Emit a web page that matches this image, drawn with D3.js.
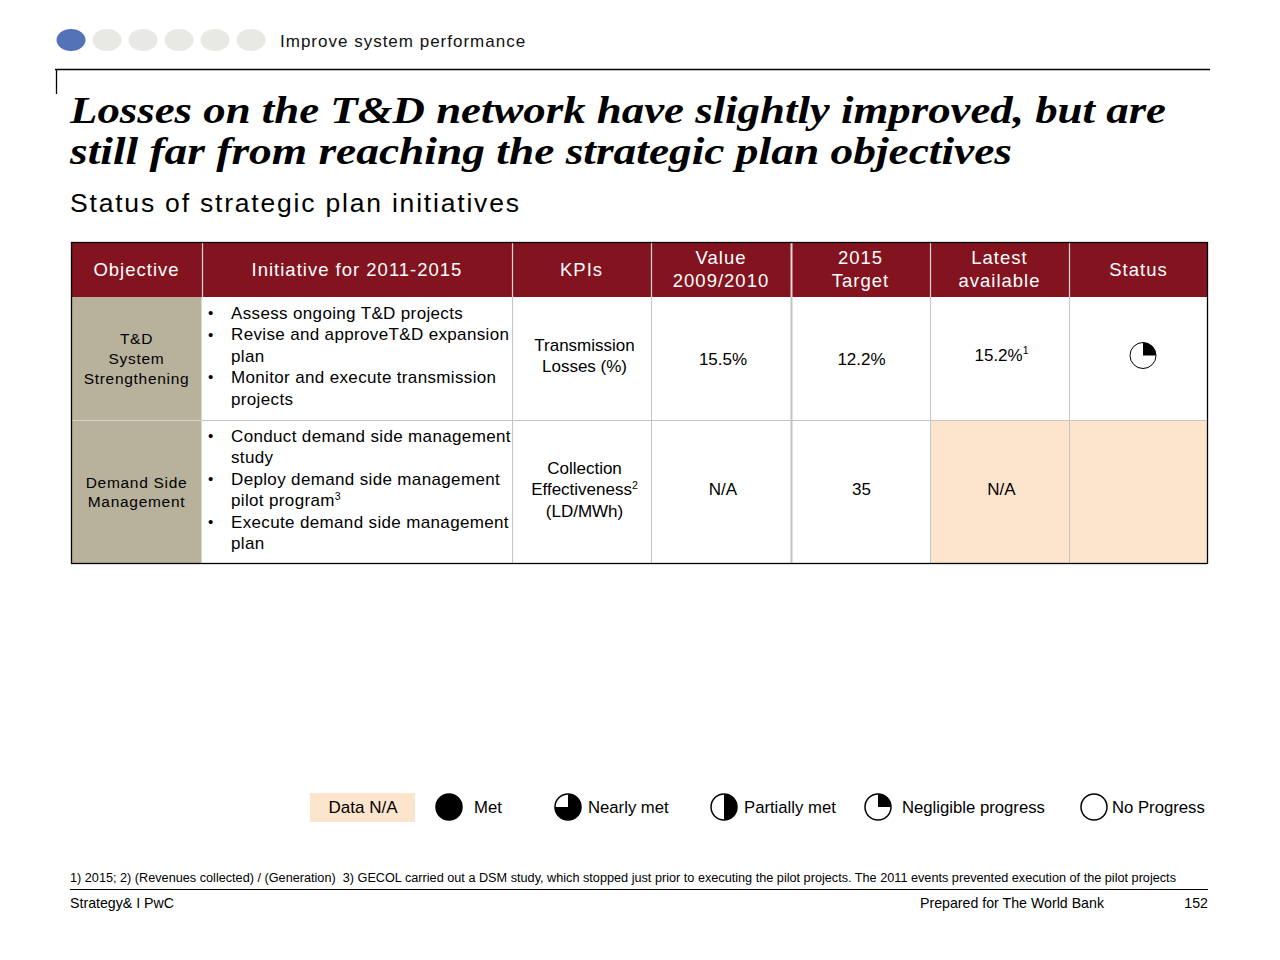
<!DOCTYPE html>
<html><head><meta charset="utf-8">
<script src="https://cdn.jsdelivr.net/npm/d3@7"></script>
<style>body{margin:0;background:#fff}svg{display:block}text{white-space:pre}</style>
</head><body>
<svg id="c" width="1280" height="960"></svg>
<script>
// ---------- data ----------
const sectionTitle = "Improve system performance";
const progressSteps = [1, 0, 0, 0, 0, 0];
const titleLines = ["Losses on the T&D network have slightly improved, but are",
                    "still far from reaching the strategic plan objectives"];
const subtitle = "Status of strategic plan initiatives";
const headers = [["Objective"], ["Initiative for 2011-2015"], ["KPIs"], ["Value", "2009/2010"],
                 ["2015", "Target"], ["Latest", "available"], ["Status"]];
const objectives = [["T&D", "System", "Strengthening"], ["Demand Side", "Management"]];
const initiatives = [
  [["Assess ongoing T&D projects"], ["Revise and approveT&D expansion", "plan"], ["Monitor and execute transmission", "projects"]],
  [["Conduct demand side management", "study"], ["Deploy demand side management", "pilot program|3"], ["Execute demand side management", "plan"]]
];
const kpis = [["Transmission", "Losses (%)"], ["Collection", "Effectiveness|2", "(LD/MWh)"]];
const baseValues = ["15.5%", "N/A"];
const targets = ["12.2%", "35"];
const latest = ["15.2%|1", "N/A"];
const statusFill = [0.25, null];        // share of circle filled, null = data n/a
const dataNA = [false, true];
const legendItems = [
  {label: "Met", fill: 1}, {label: "Nearly met", fill: 0.75}, {label: "Partially met", fill: 0.5},
  {label: "Negligible progress", fill: 0.25}, {label: "No Progress", fill: 0}
];
const footnote = "1) 2015; 2) (Revenues collected) / (Generation)  3) GECOL carried out a DSM study, which stopped just prior to executing the pilot projects. The 2011 events prevented execution of the pilot projects";
const footerLeft = "Strategy& I PwC", footerMid = "Prepared for The World Bank", pageNo = "152";

// ---------- layout ----------
const svg = d3.select("#c");
const SANS = "'Liberation Sans', Arial, Helvetica, sans-serif";
const RED = "#83141f", KHAKI = "#b8b19c", PEACH = "#fce5cc", GRID = "#c4c4c4";

// progress dots
const dotX = d3.scalePoint().domain(d3.range(progressSteps.length)).range([71, 251]);
svg.selectAll("ellipse.dot").data(progressSteps).join("ellipse")
  .attr("cx", (d, i) => dotX(i)).attr("cy", 40).attr("rx", 14.5).attr("ry", 11)
  .attr("fill", d => d ? "#5472b8" : "#e8e8e4");
svg.append("text").attr("x", 280).attr("y", 47).attr("font-family", SANS).attr("font-size", 17)
  .attr("letter-spacing", 1.0).attr("fill", "#111").text(sectionTitle);

svg.append("path").attr("d", "M55,69.5H1210M56.5,69V94").attr("stroke", "#000").attr("stroke-width", 1.3).attr("fill", "none");

// title
const titleW = [1096, 942];
svg.selectAll("text.title").data(titleLines).join("text")
  .attr("x", 70).attr("y", (d, i) => 123 + i * 41)
  .attr("font-family", "'Liberation Serif', 'Times New Roman', serif")
  .attr("font-weight", "bold").attr("font-style", "italic").attr("font-size", 37)
  .attr("textLength", (d, i) => titleW[i]).attr("lengthAdjust", "spacingAndGlyphs")
  .attr("fill", "#000").text(d => d);

svg.append("text").attr("x", 70).attr("y", 212).attr("font-family", SANS).attr("font-size", 26.5)
  .attr("letter-spacing", 1.8).attr("fill", "#000").text(subtitle);

// table geometry
const colW = [131, 310, 139, 140, 139, 139, 139];
const colEdges = [71]; colW.forEach(w => colEdges.push(colEdges[colEdges.length - 1] + w));
const rowEdges = [242, 297, 420, 564];
const cx = i => (colEdges[i] + colEdges[i + 1]) / 2;
const cy = r => (rowEdges[r + 1] + rowEdges[r + 2]) / 2;

const g = svg.append("g");
g.append("rect").attr("x", colEdges[0]).attr("y", rowEdges[0]).attr("width", colEdges[7] - colEdges[0])
  .attr("height", rowEdges[1] - rowEdges[0]).attr("fill", RED);
objectives.forEach((o, r) => {
  g.append("rect").attr("x", colEdges[0]).attr("y", rowEdges[r + 1]).attr("width", colW[0])
    .attr("height", rowEdges[r + 2] - rowEdges[r + 1]).attr("fill", KHAKI);
});
dataNA.forEach((na, r) => {
  if (!na) return;
  g.append("rect").attr("x", colEdges[5]).attr("y", rowEdges[r + 1]).attr("width", colEdges[7] - colEdges[5])
    .attr("height", rowEdges[r + 2] - rowEdges[r + 1]).attr("fill", PEACH);
});
for (let i = 1; i < 7; i++) {
  g.append("line").attr("x1", colEdges[i] + 0.5).attr("x2", colEdges[i] + 0.5)
    .attr("y1", rowEdges[0]).attr("y2", rowEdges[1]).attr("stroke", "#e9d6d6").attr("stroke-width", i === 4 ? 2 : 1.2);
  g.append("line").attr("x1", colEdges[i] + 0.5).attr("x2", colEdges[i] + 0.5)
    .attr("y1", rowEdges[1]).attr("y2", rowEdges[3]).attr("stroke", i === 1 ? "#fff" : GRID).attr("stroke-width", (i === 4 || i === 1) ? 2 : 1);
}
g.append("line").attr("x1", colEdges[1]).attr("x2", colEdges[7]).attr("y1", rowEdges[2] + 0.5).attr("y2", rowEdges[2] + 0.5)
  .attr("stroke", GRID);
g.append("line").attr("x1", colEdges[0]).attr("x2", colEdges[1]).attr("y1", rowEdges[2] + 0.5).attr("y2", rowEdges[2] + 0.5)
  .attr("stroke", "#d8d3c4");
g.append("rect").attr("x", colEdges[0] + 0.5).attr("y", rowEdges[0] + 0.5).attr("width", colEdges[7] - colEdges[0] - 1)
  .attr("height", rowEdges[3] - rowEdges[0] - 1).attr("fill", "none").attr("stroke", "#000").attr("stroke-width", 1.3);

function addText(sel, str, size) {
  const parts = str.split("|");
  sel.append("tspan").text(parts[0]);
  if (parts[1]) sel.append("tspan").attr("font-size", size * 0.62).attr("dy", -size * 0.38).text(parts[1]);
}
function multiline(x, yc, lines, lh, size, opts = {}) {
  const y0 = yc - (lines.length - 1) * lh / 2;
  lines.forEach((l, k) => {
    const t = g.append("text").attr("x", x).attr("y", y0 + k * lh).attr("dy", "0.35em")
      .attr("text-anchor", opts.anchor || "middle").attr("font-family", SANS).attr("font-size", size)
      .attr("fill", opts.fill || "#000").attr("letter-spacing", opts.ls || 0);
    addText(t, l, size);
  });
}
headers.forEach((h, i) => multiline(cx(i), (rowEdges[0] + rowEdges[1]) / 2, h, 23, 18.5, {fill: "#fff", ls: 1.0}));

const arcGen = d3.arc().innerRadius(0);
objectives.forEach((o, r) => {
  multiline(cx(0), cy(r) + (r === 0 ? 0.5 : 0.5), o, r === 0 ? 20 : 19, 15.5, {ls: 0.7});
  const lines = [];
  initiatives[r].forEach(b => b.forEach((l, k) => lines.push({l, bullet: k === 0})));
  const lh = 21.4, y0 = (r === 0 ? 313 : 436);
  lines.forEach((d, k) => {
    if (d.bullet) g.append("text").attr("x", 208).attr("y", y0 + k * lh).attr("dy", "0.35em")
      .attr("font-family", SANS).attr("font-size", 15).text("•");
    const t = g.append("text").attr("x", 231).attr("y", y0 + k * lh).attr("dy", "0.35em")
      .attr("font-family", SANS).attr("font-size", 17).attr("letter-spacing", 0.35);
    addText(t, d.l, 17);
  });
  multiline(cx(2) + 3, r === 0 ? 355.5 : 489.5, kpis[r], 21.5, 17);
  multiline(cx(3) + 2, cy(r) + (r === 0 ? 0.5 : -3), [baseValues[r]], 20, 17);
  multiline(cx(4) + 1, cy(r) + (r === 0 ? 0.5 : -3), [targets[r]], 20, 17);
  multiline(cx(5) + 2, cy(r) + (r === 0 ? -3.5 : -3), [latest[r]], 20, 17);
  if (statusFill[r] !== null) drawStatus(g, cx(6) + 4.5, cy(r) - 3, 13, statusFill[r], 1);
});

function drawStatus(parent, x, y, rad, frac, sw) {
  const s = parent.append("g").attr("transform", `translate(${x},${y})`);
  s.append("circle").attr("r", rad).attr("fill", "#fff").attr("stroke", "#000").attr("stroke-width", sw);
  if (frac >= 1) s.select("circle").attr("fill", "#000");
  else if (frac > 0) s.append("path").attr("d", arcGen({outerRadius: rad, startAngle: 0, endAngle: frac * 2 * Math.PI})).attr("fill", "#000");
}

// legend
svg.append("rect").attr("x", 310).attr("y", 793).attr("width", 105).attr("height", 29).attr("fill", PEACH);
svg.append("text").attr("x", 363).attr("y", 807).attr("dy", "0.35em").attr("text-anchor", "middle")
  .attr("font-family", SANS).attr("font-size", 17).text("Data N/A");
const legIconX = [449, 568, 724, 878, 1094];
const legTextX = [474, 588, 744, 902, 1112];
legendItems.forEach((d, i) => {
  drawStatus(svg, legIconX[i], 807, 13, d.fill, 1.5);
  svg.append("text").attr("x", legTextX[i]).attr("y", 807).attr("dy", "0.35em")
    .attr("font-family", SANS).attr("font-size", 16.7).text(d.label);
});

// footer
svg.append("text").attr("x", 70).attr("y", 882).attr("font-family", SANS).attr("font-size", 12.5)
  .attr("textLength", 1106).attr("lengthAdjust", "spacingAndGlyphs").text(footnote);
svg.append("line").attr("x1", 70).attr("x2", 1208).attr("y1", 889.5).attr("y2", 889.5).attr("stroke", "#000").attr("stroke-width", 1.2);
svg.append("text").attr("x", 70).attr("y", 908).attr("font-family", SANS).attr("font-size", 14.2).text(footerLeft);
svg.append("text").attr("x", 1104).attr("y", 908).attr("text-anchor", "end").attr("font-family", SANS).attr("font-size", 14.2).text(footerMid);
svg.append("text").attr("x", 1208).attr("y", 908).attr("text-anchor", "end").attr("font-family", SANS).attr("font-size", 14.2).text(pageNo);
</script>
</body></html>
